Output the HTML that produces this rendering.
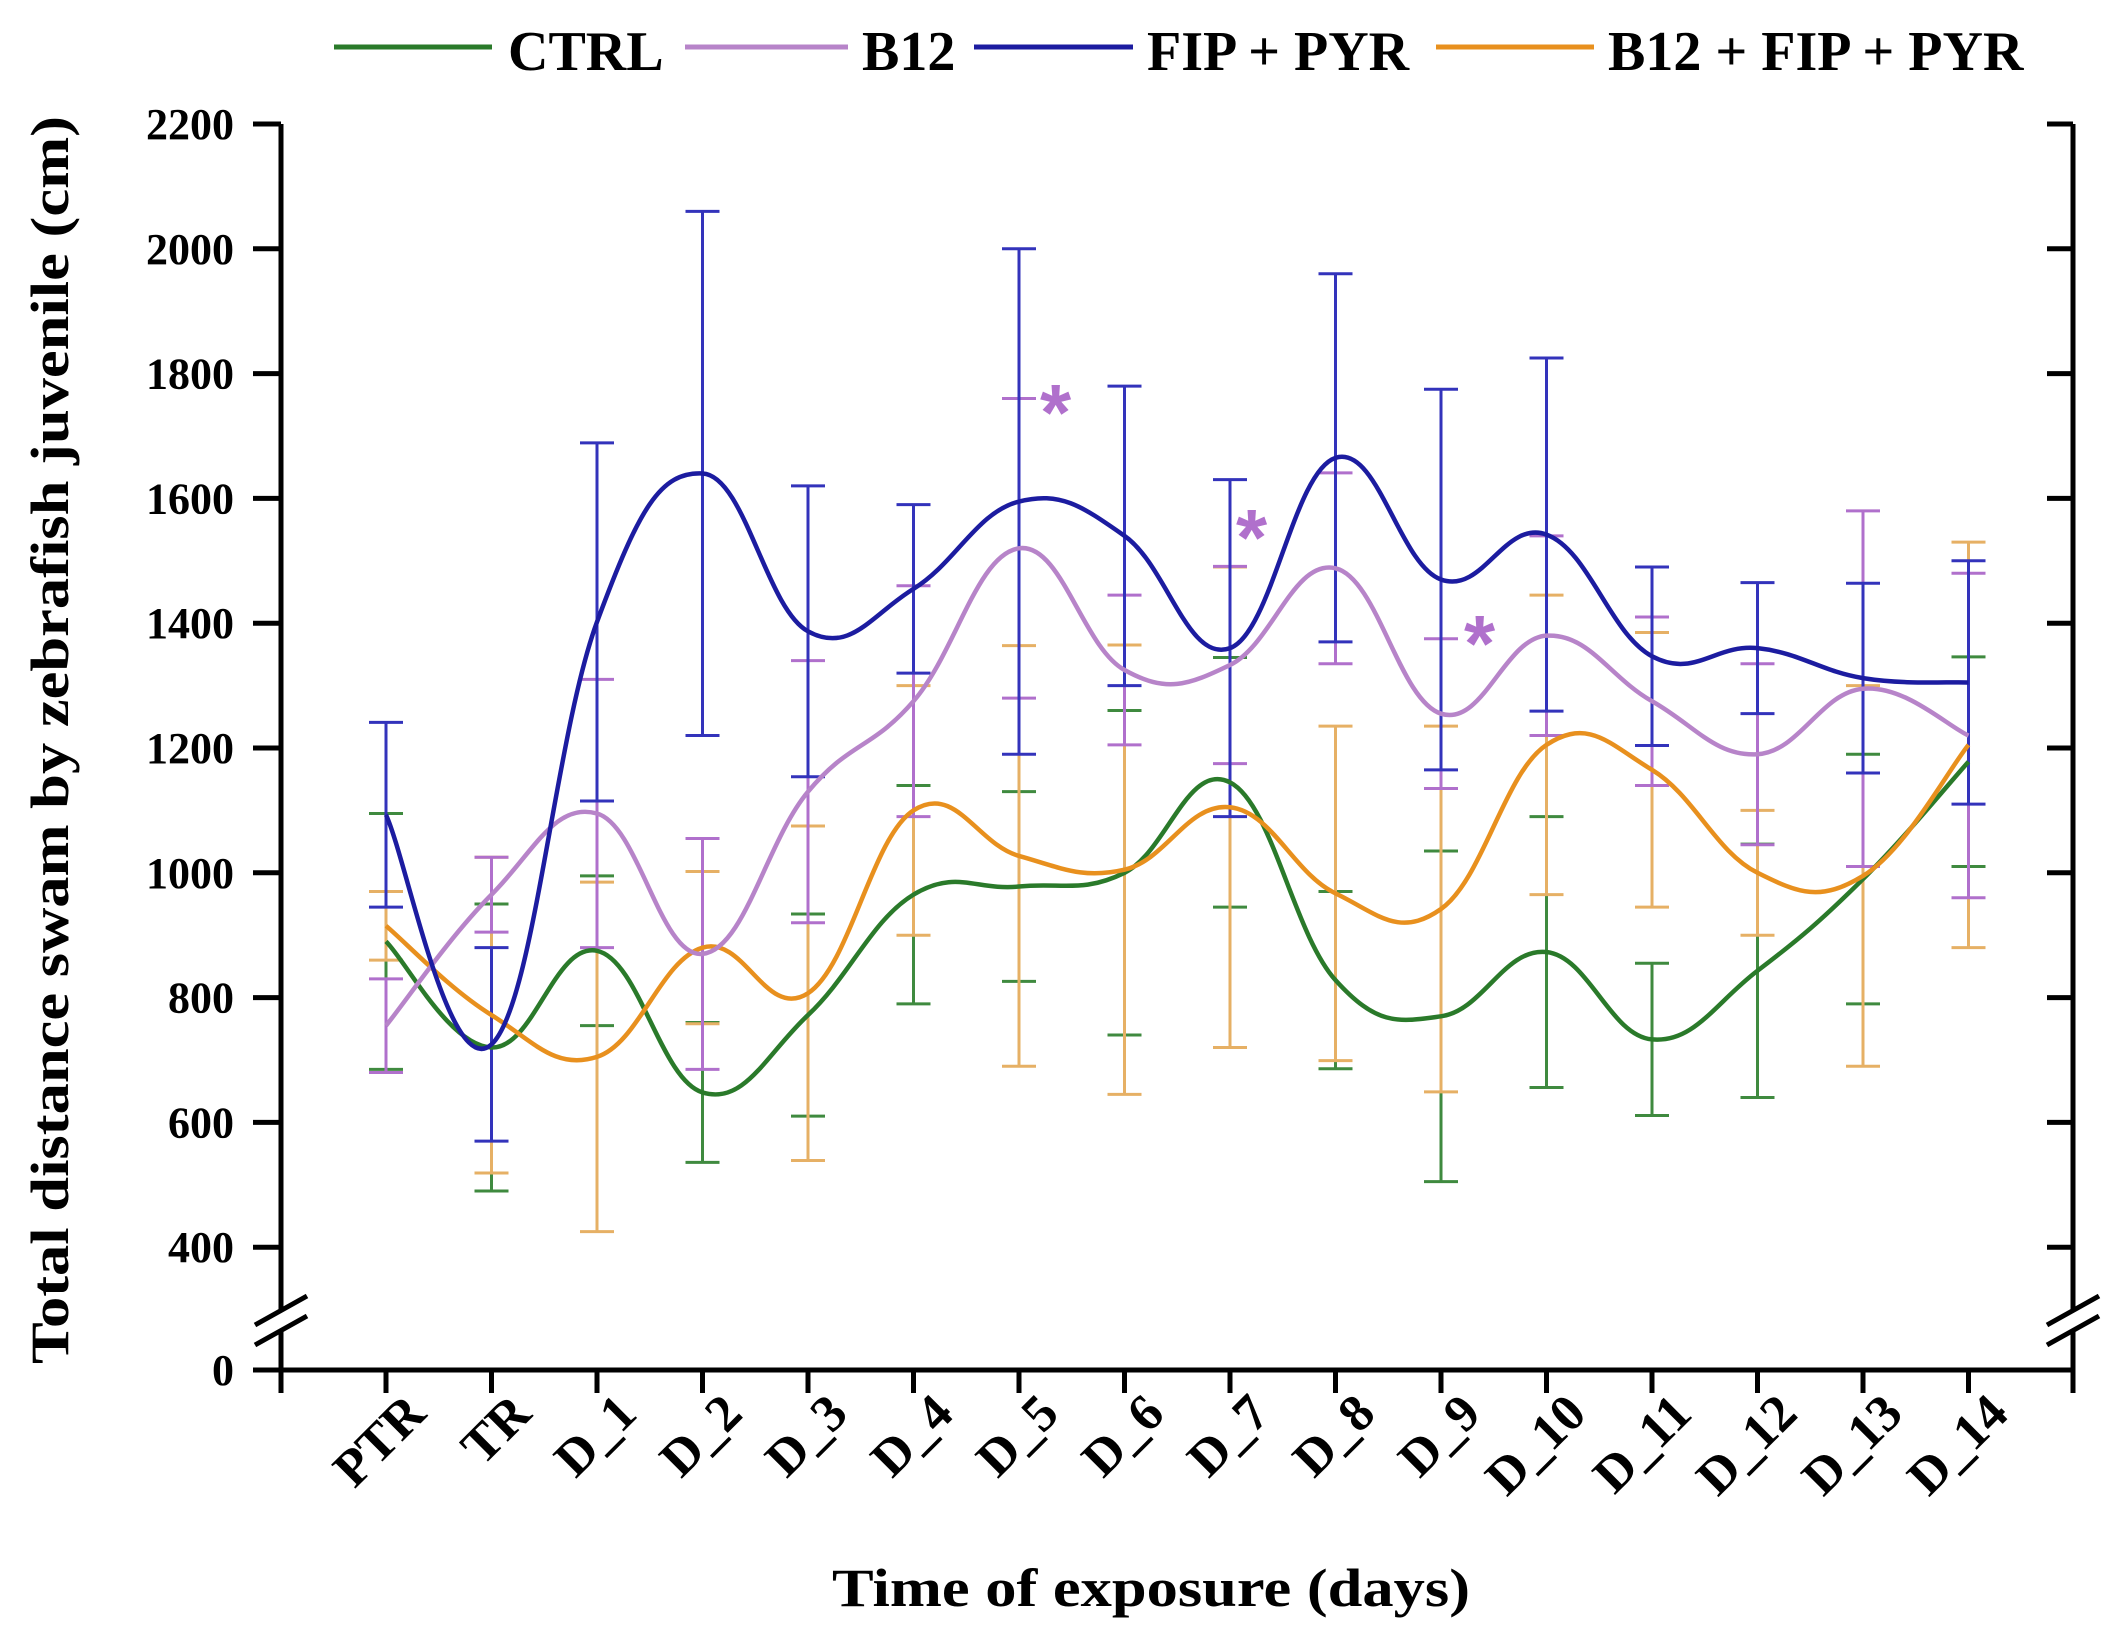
<!DOCTYPE html>
<html><head><meta charset="utf-8"><style>
html,body{margin:0;padding:0;background:#fff;}
svg{display:block;font-family:"Liberation Serif",serif;}
</style></head><body>
<svg id="chart" width="2117" height="1641" viewBox="0 0 2117 1641" xmlns="http://www.w3.org/2000/svg">
<g id="legend" font-weight="bold" font-size="56">
 <g><line x1="334" y1="47" x2="492" y2="47" stroke="#2a7a2a" stroke-width="5"/><text x="508" y="70">CTRL</text></g>
 <g><line x1="685" y1="47" x2="848" y2="47" stroke="#b784c9" stroke-width="5"/><text x="862" y="70">B12</text></g>
 <g><line x1="974" y1="47" x2="1133" y2="47" stroke="#1c1ca0" stroke-width="5"/><text x="1147" y="70">FIP + PYR</text></g>
 <g><line x1="1436" y1="47" x2="1594" y2="47" stroke="#e8901e" stroke-width="5"/><text x="1608" y="70">B12 + FIP + PYR</text></g>
</g>
<g id="axes"></g>
<g id="errs"></g>
<g id="lines"></g>
<g id="stars" fill="#b070cc" font-weight="bold" font-size="80" font-family="Liberation Sans, sans-serif">
 <text x="1040" y="440">*</text>
 <text x="1236" y="565">*</text>
 <text x="1464" y="671">*</text>
</g>
<text font-weight="bold" font-size="54" text-anchor="middle" transform="translate(68,740) rotate(-90)" textLength="1248" lengthAdjust="spacingAndGlyphs">Total distance swam by zebrafish juvenile (cm)</text>
<text font-weight="bold" font-size="54" text-anchor="middle" x="1151" y="1606" textLength="638" lengthAdjust="spacingAndGlyphs">Time of exposure (days)</text>
</svg>
<script>
const categories=["PTR","TR","D_1","D_2","D_3","D_4","D_5","D_6","D_7","D_8","D_9","D_10","D_11","D_12","D_13","D_14"];
const yTicks=[400,600,800,1000,1200,1400,1600,1800,2000,2200];
const ctrlMean=[890,720,875,648,772,965,978,1000,1145,828,770,873,733,843,990,1178];
const ctrlSd=[205,230,120,112,162,175,152,260,200,142,265,217,122,203,200,168];
const b12Mean=[755,965,1095,870,1130,1275,1520,1325,1333,1488,1255,1380,1275,1190,1295,1220];
const b12Sd=[75,60,215,185,210,185,240,120,158,153,120,160,135,145,285,260];
const fipMean=[1093,725,1402,1640,1387,1455,1595,1540,1360,1665,1470,1542,1347,1360,1312,1305];
const fipSd=[148,155,287,420,233,135,405,240,270,295,305,283,143,105,152,195];
const comboMean=[915,772,705,880,807,1100,1027,1005,1105,967,942,1205,1165,1000,995,1205];
const comboSd=[55,253,280,122,268,200,337,360,385,268,293,240,220,100,305,325];
const series=[
 {name:"ctrl",mean:ctrlMean,sd:ctrlSd,col:"#2a7a2a",ecol:"#3f8a3f"},
 {name:"combo",mean:comboMean,sd:comboSd,col:"#e8901e",ecol:"#e6b065"},
 {name:"b12",mean:b12Mean,sd:b12Sd,col:"#b784c9",ecol:"#b070cc"},
 {name:"fip-pyr",mean:fipMean,sd:fipSd,col:"#1c1ca0",ecol:"#3333bb"}
];
const NS="http://www.w3.org/2000/svg";
const X0=281,X1=2073,Y0=1370;
function xs(i){return 386+i*105.5;}
function ys(v){return v===0?Y0:124+(2200-v)*0.624;}
function mk(tag,attrs,parent){const e=document.createElementNS(NS,tag);for(const k in attrs)e.setAttribute(k,attrs[k]);parent.appendChild(e);return e;}
const axes=document.getElementById('axes');
let a=mk('path',{d:`M${X0},${ys(2200)}V1310 M${X0},1330V${Y0}`,stroke:"#000","stroke-width":5,fill:"none"},axes);

let r=mk('path',{d:`M${X1},${ys(2200)}V1310 M${X1},1330V${Y0+23}`,stroke:"#000","stroke-width":5,fill:"none"},axes);

let xa=mk('line',{x1:X0-28,y1:Y0,x2:X1,y2:Y0,stroke:"#000","stroke-width":5},axes);

[X0,X1].forEach(function(x){
 let b=mk('path',{d:`M${x-26},1325L${x+26},1296 M${x-26},1345L${x+26},1316`,stroke:"#000","stroke-width":5,fill:"none"},axes);
 
});
yTicks.forEach(function(v){
 mk('line',{x1:X0-28,y1:ys(v),x2:X0,y2:ys(v),stroke:"#000","stroke-width":5},axes);
 mk('line',{x1:X1-26,y1:ys(v),x2:X1,y2:ys(v),stroke:"#000","stroke-width":5},axes);
 let t=mk('text',{x:234,y:ys(v)+15,"text-anchor":"end","font-size":44,"font-weight":"bold"},axes);
 t.textContent=v;
 
 
});
let z=mk('text',{x:234,y:Y0+15,"text-anchor":"end","font-size":44,"font-weight":"bold"},axes);z.textContent="0";


mk('line',{x1:X0,y1:Y0,x2:X0,y2:Y0+23,stroke:"#000","stroke-width":5},axes);
categories.forEach(function(c,i){
 const x=xs(i);
 mk('line',{x1:x,y1:Y0,x2:x,y2:Y0+23,stroke:"#000","stroke-width":5},axes);
 let t=mk('text',{"text-anchor":"end","font-size":52,"font-weight":"bold",transform:`translate(${x+42},${Y0+46}) rotate(-45)`},axes);
 t.textContent=c;
 
 
});
const errs=document.getElementById('errs'),lines=document.getElementById('lines');
function spline(pts){
 let d=`M${pts[0][0]},${pts[0][1]}`;
 for(let i=0;i<pts.length-1;i++){
  const p0=pts[Math.max(0,i-1)],p1=pts[i],p2=pts[i+1],p3=pts[Math.min(pts.length-1,i+2)];
  const t=1/5;
  const c1=[p1[0]+(p2[0]-p0[0])*t,p1[1]+(p2[1]-p0[1])*t];
  const c2=[p2[0]-(p3[0]-p1[0])*t,p2[1]-(p3[1]-p1[1])*t];
  d+=`C${c1[0]},${c1[1]} ${c2[0]},${c2[1]} ${p2[0]},${p2[1]}`;
 }
 return d;
}
series.forEach(function(s){
 s.mean.forEach(function(m,i){
  const x=xs(i),hi=ys(m+s.sd[i]),lo=ys(m-s.sd[i]);
  let g=mk('path',{d:`M${x},${hi}V${lo} M${x-17},${hi}H${x+17} M${x-17},${lo}H${x+17}`,stroke:s.ecol,"stroke-width":3,fill:"none"},errs);
  
  
 });
 const pts=s.mean.map(function(m,i){return [xs(i),ys(m)];});
 let p=mk('path',{d:spline(pts),stroke:s.col,"stroke-width":4.5,fill:"none"},lines);
 
 
});
</script>
</body></html>
